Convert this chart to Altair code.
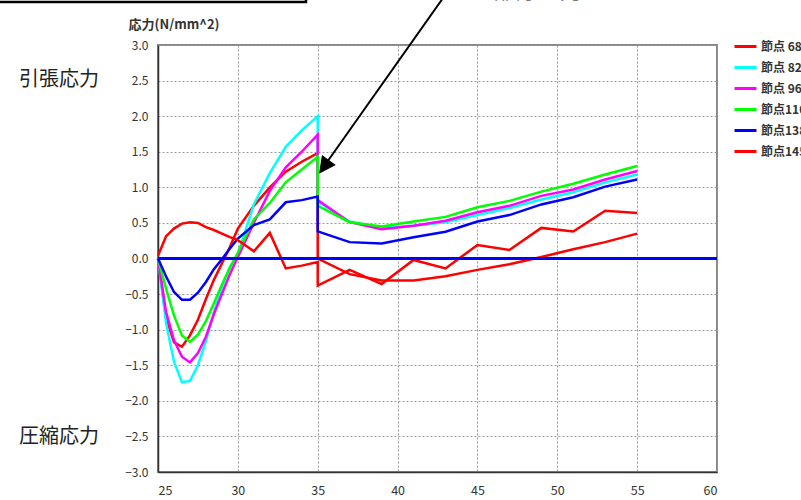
import altair as alt
import pandas as pd

# x positions (mm) shared by every node series; 35 appears twice for the jump
x_pts = [25, 25.5, 26, 26.5, 27, 27.5, 28, 28.5, 29, 29.5, 30, 31, 32, 33, 34,
         35, 35, 37, 39, 41, 43, 45, 47, 49, 51, 53, 55]

node_names = ["節点 68", "節点 82", "節点 96", "節点110", "節点138", "節点145"]
node_colors = ["#ff0000", "#00ffff", "#ff00ff", "#00ff00", "#0000ff", "#ff0000"]

stress_68 = [0, -0.82, -1.18, -1.24, -1.08, -0.86, -0.57, -0.30, -0.07, 0.16, 0.42,
             0.74, 1.00, 1.22, 1.36, 1.48, 0.0, -0.22, -0.31, -0.31, -0.25, -0.16,
             -0.08, 0.02, 0.13, 0.23, 0.35]
stress_82 = [0, -0.90, -1.45, -1.74, -1.72, -1.50, -1.16, -0.76, -0.40, -0.12, 0.06,
             0.76, 1.20, 1.57, 1.80, 2.00, 0.80, 0.52, 0.43, 0.46, 0.51, 0.61,
             0.71, 0.83, 0.93, 1.07, 1.18]
stress_96 = [0, -0.75, -1.15, -1.38, -1.46, -1.33, -1.10, -0.78, -0.50, -0.22, 0.02,
             0.50, 0.95, 1.28, 1.50, 1.74, 0.82, 0.51, 0.41, 0.46, 0.53, 0.65,
             0.74, 0.88, 0.97, 1.11, 1.23]
stress_110 = [0, -0.42, -0.80, -1.08, -1.17, -1.07, -0.88, -0.63, -0.37, -0.13, 0.08,
              0.55, 0.78, 1.07, 1.25, 1.43, 0.74, 0.51, 0.45, 0.52, 0.585, 0.72,
              0.81, 0.94, 1.05, 1.18, 1.30]
stress_138 = [0, -0.25, -0.47, -0.58, -0.58, -0.48, -0.33, -0.15, -0.01, 0.14, 0.28,
              0.47, 0.55, 0.79, 0.82, 0.87, 0.38, 0.23, 0.21, 0.30, 0.375, 0.52,
              0.61, 0.76, 0.86, 1.01, 1.11]
stress_145 = [0.04, 0.31, 0.42, 0.49, 0.51, 0.50, 0.44, 0.40, 0.35, 0.30, 0.26,
              0.10, 0.36, -0.14, -0.10, -0.05, -0.38, -0.16, -0.36, -0.02, -0.14, 0.19,
              0.12, 0.43, 0.38, 0.67, 0.64]

series = [stress_68, stress_82, stress_96, stress_110, stress_138, stress_145]

y_ticks = [-3.0, -2.5, -2.0, -1.5, -1.0, -0.5, 0.0, 0.5, 1.0, 1.5, 2.0, 2.5, 3.0]
x_ticks = [25, 30, 35, 40, 45, 50, 55, 60]

rows = []
for name, vals in zip(node_names, series):
    for i, (xv, sv) in enumerate(zip(x_pts, vals)):
        rows.append({"node": name, "x": xv, "stress": sv, "seq": i})
df = pd.DataFrame(rows)

FONT = "Noto Sans CJK JP"
xs = alt.Scale(domain=[25, 60], nice=False, zero=False)
ys = alt.Scale(domain=[-3, 3], nice=False)

# one axis definition per direction, shared by every layer;
# tickCount is kept above the number of listed values so none are thinned out
x_axis = alt.Axis(values=x_ticks, tickCount=30, title=None, format="d", ticks=False,
                  tickSize=0, labelPadding=12, labelFontSize=12.5,
                  labelColor="#333", labelFont=FONT,
                  domainColor="#333", domainWidth=1.5,
                  gridColor="#9a9a9a", gridDash=[2, 2], gridWidth=1)
y_axis = alt.Axis(values=y_ticks, tickCount=30, format=".1f", title="応力(N/mm^2)",
                  titleAngle=0, titleX=-30, titleY=-21,
                  titleAlign="left", titleBaseline="middle",
                  titleFontSize=13, titleFontWeight="bold",
                  titleColor="#333", titleFont=FONT,
                  ticks=False, tickSize=0, labelPadding=10, labelOverlap=False,
                  labelFontSize=12, labelColor="#333", labelFont=FONT,
                  domainColor="#333", domainWidth=1.5,
                  gridColor="#9a9a9a", gridDash=[2, 2], gridWidth=1)

lines = alt.Chart(df).mark_line(strokeWidth=2.5).encode(
    x=alt.X("x:Q", scale=xs, axis=x_axis),
    y=alt.Y("stress:Q", scale=ys, axis=y_axis),
    color=alt.Color("node:N", scale=alt.Scale(domain=node_names, range=node_colors),
                    legend=alt.Legend(title=None, orient="none", legendX=575,
                                      legendY=-11, symbolType="stroke",
                                      symbolStrokeWidth=3, symbolSize=484,
                                      rowPadding=2, labelOffset=3, padding=0,
                                      labelFontSize=12, labelFontWeight="bold",
                                      labelColor="#333", labelFont=FONT,
                                      labelLimit=200)),
    order="seq:Q",
)

zero_line = alt.Chart(pd.DataFrame({"stress": [0.0]})).mark_rule(
    color="#0000ff", strokeWidth=3).encode(y=alt.Y("stress:Q", scale=ys, axis=y_axis))

# annotation arrow pointing at the stress jump at x = 35
arrow_df = pd.DataFrame({"x": [43.6], "stress": [3.9], "x2": [35.6], "y2": [1.36]})
arrow_line = alt.Chart(arrow_df).mark_rule(color="black", strokeWidth=2).encode(
    x=alt.X("x:Q", scale=xs, axis=x_axis), y=alt.Y("stress:Q", scale=ys, axis=y_axis),
    x2="x2:Q", y2="y2:Q")

head_df = pd.DataFrame({"x": [35.08], "stress": [1.19]})
arrow_head = alt.Chart(head_df).mark_point(
    shape="M0,0L-0.5,1L0.5,1Z", size=1156, angle=215.6, filled=True,
    color="black", opacity=1, strokeWidth=0).encode(
    x=alt.X("x:Q", scale=xs, axis=x_axis), y=alt.Y("stress:Q", scale=ys, axis=y_axis))

one = pd.DataFrame({"k": [0]})
note_box = alt.Chart(one).mark_rect(fillOpacity=0, stroke="black", strokeWidth=2.5).encode(
    x=alt.value(-170), x2=alt.value(148), y=alt.value(-100), y2=alt.value(-43))

note_text = alt.Chart(one).mark_text(
    text="この部分に発生", fontSize=22, font=FONT, align="center",
    baseline="alphabetic", color="black").encode(x=alt.value(368), y=alt.value(-47))

tension_label = alt.Chart(one).mark_text(
    text="引張応力", fontSize=20, font=FONT, align="center", baseline="middle",
    color="#222").encode(x=alt.value(-99), y=alt.value(35))
compression_label = alt.Chart(one).mark_text(
    text="圧縮応力", fontSize=20, font=FONT, align="center", baseline="middle",
    color="#222").encode(x=alt.value(-99), y=alt.value(392))

chart = alt.layer(
    lines, zero_line, arrow_line, arrow_head, note_box, note_text,
    tension_label, compression_label
).properties(
    width=559, height=427,
    autosize=alt.AutoSizeParams(type="none"),
    padding={"left": 158, "top": 45, "right": 84, "bottom": 28},
    background="white",
).configure_view(stroke="#888", strokeWidth=2)

chart.save("out.html", embed_options={"renderer": "svg", "actions": False})
